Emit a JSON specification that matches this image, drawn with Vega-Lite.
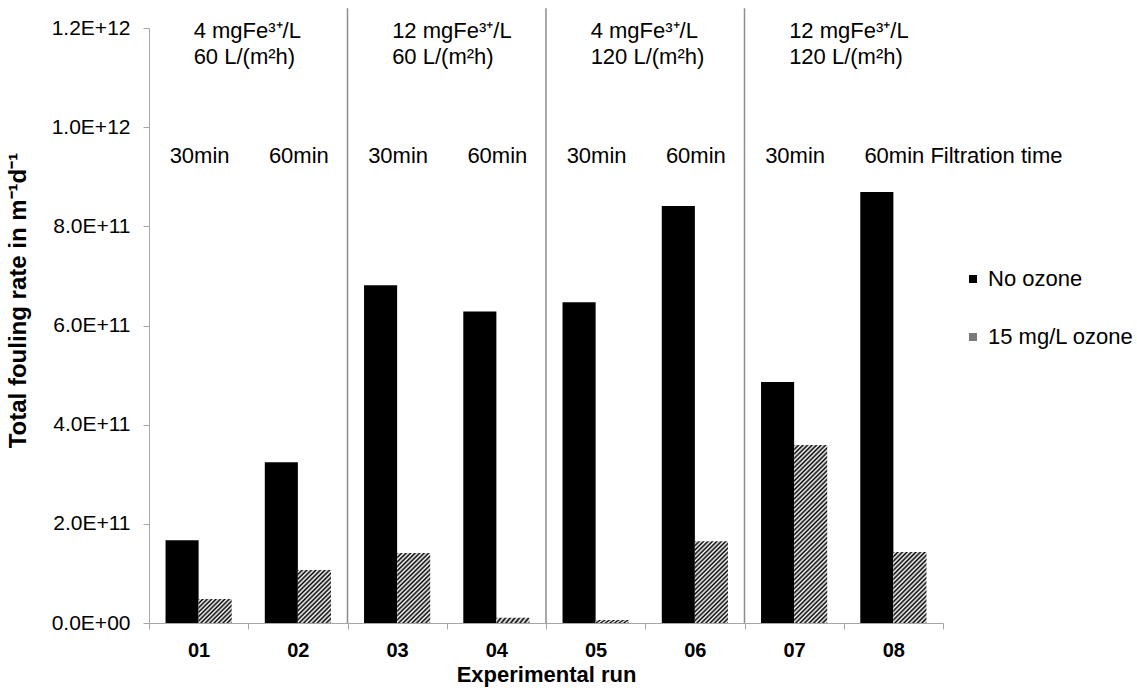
{
"$schema": "https://vega.github.io/schema/vega-lite/v6.json",
"width": 794, "height": 595,
"autosize": {"type": "none"},
"padding": {"left": 149, "top": 28, "right": 194, "bottom": 70},
"background": "white",
"config": {"view": {"stroke": null}, "font": "Liberation Sans"},
"datasets": {
"bars": [
{"run":"01","series":"No ozone","value":1.67e11},
{"run":"01","series":"15 mg/L ozone","value":4.85e10},
{"run":"02","series":"No ozone","value":3.24e11},
{"run":"02","series":"15 mg/L ozone","value":1.07e11},
{"run":"03","series":"No ozone","value":6.81e11},
{"run":"03","series":"15 mg/L ozone","value":1.41e11},
{"run":"04","series":"No ozone","value":6.28e11},
{"run":"04","series":"15 mg/L ozone","value":1.05e10},
{"run":"05","series":"No ozone","value":6.47e11},
{"run":"05","series":"15 mg/L ozone","value":6e9},
{"run":"06","series":"No ozone","value":8.41e11},
{"run":"06","series":"15 mg/L ozone","value":1.65e11},
{"run":"07","series":"No ozone","value":4.86e11},
{"run":"07","series":"15 mg/L ozone","value":3.59e11},
{"run":"08","series":"No ozone","value":8.69e11},
{"run":"08","series":"15 mg/L ozone","value":1.43e11}
],
"separators": [{"run":"02"},{"run":"04"},{"run":"06"}],
"groups": [
{"run":"01","conc":"4 mgFe³⁺/L","flux":"60 L/(m²h)"},
{"run":"03","conc":"12 mgFe³⁺/L","flux":"60 L/(m²h)"},
{"run":"05","conc":"4 mgFe³⁺/L","flux":"120 L/(m²h)"},
{"run":"07","conc":"12 mgFe³⁺/L","flux":"120 L/(m²h)"}
],
"times": [
{"run":"01","time":"30min"},
{"run":"02","time":"60min"},
{"run":"03","time":"30min"},
{"run":"04","time":"60min"},
{"run":"05","time":"30min"},
{"run":"06","time":"60min"},
{"run":"07","time":"30min"},
{"run":"08","time":"60min Filtration time"}
]
},
"layer": [
{
"data": {"name": "bars"},
"mark": {"type": "bar", "strokeWidth": 0},
"encoding": {
"x": {"field": "run", "type": "nominal",
 "scale": {"type": "band", "domain": ["01","02","03","04","05","06","07","08"], "paddingInner": 0, "paddingOuter": 0},
 "axis": {"title": "Experimental run", "labelAngle": 0, "labelFont": "Liberation Sans", "labelFontSize": 20, "labelFontWeight": "bold", "labelColor": "black", "labelPadding": 11, "tickBand": "extent", "ticks": true, "tickSize": 6, "tickColor": "#a6a6a6", "domainColor": "#a6a6a6", "titleFont": "Liberation Sans", "titleFontSize": 22, "titleFontWeight": "bold", "titleColor": "black", "titlePadding": 4, "grid": false}},
"xOffset": {"field": "series", "type": "nominal", "scale": {"domain": ["No ozone","15 mg/L ozone"], "paddingInner": 0, "paddingOuter": 0.5}},
"y": {"field": "value", "type": "quantitative",
 "scale": {"domain": [0, 1.2e12], "nice": false, "zero": true},
 "axis": {"title": "Total fouling rate  in m⁻¹d⁻¹", "values": [0, 2e11, 4e11, 6e11, 8e11, 1e12, 1.2e12], "labelExpr": "datum.value === 0 ? '0.0E+00' : replace(format(datum.value, '.1e'), 'e', 'E')", "labelFont": "Liberation Sans", "labelFontSize": 21, "labelColor": "black", "labelPadding": 13, "tickSize": 6, "tickColor": "#a6a6a6", "domainColor": "#a6a6a6", "grid": false, "titleFont": "Liberation Sans", "titleFontSize": 24, "titleFontWeight": "bold", "titleColor": "black", "titleX": -119, "titleY": 272, "titleBaseline": "bottom", "titleAngle": -90, "titleAlign": "center"}},
"fill": {"field": "series", "type": "nominal",
 "scale": {"domain": ["No ozone","15 mg/L ozone"], "range": ["#000000", "#7a7a7a"]},
 "legend": {"title": null, "orient": "none", "legendX": 813, "legendY": 240, "direction": "vertical", "symbolType": "square", "symbolSize": 64, "symbolStrokeWidth": 0, "labelFont": "Liberation Sans", "labelFontSize": 22, "labelColor": "black", "labelOffset": 4, "rowPadding": 36, "padding": 0, "labelLimit": 300},
 "condition": [
  {"test": "datum.series !== 'No ozone' && datum.run === '01'", "value": {"gradient":"linear","x1":0,"y1":0,"x2":1.13,"y2":0.822,"stops":[{"offset":0,"color":"#000"},{"offset":0.0385,"color":"#fff"},{"offset":0.0769,"color":"#000"},{"offset":0.1154,"color":"#fff"},{"offset":0.1538,"color":"#000"},{"offset":0.1923,"color":"#fff"},{"offset":0.2308,"color":"#000"},{"offset":0.2692,"color":"#fff"},{"offset":0.3077,"color":"#000"},{"offset":0.3462,"color":"#fff"},{"offset":0.3846,"color":"#000"},{"offset":0.4231,"color":"#fff"},{"offset":0.4615,"color":"#000"},{"offset":0.5,"color":"#fff"},{"offset":0.5385,"color":"#000"},{"offset":0.5769,"color":"#fff"},{"offset":0.6154,"color":"#000"},{"offset":0.6538,"color":"#fff"},{"offset":0.6923,"color":"#000"},{"offset":0.7308,"color":"#fff"},{"offset":0.7692,"color":"#000"},{"offset":0.8077,"color":"#fff"},{"offset":0.8462,"color":"#000"},{"offset":0.8846,"color":"#fff"},{"offset":0.9231,"color":"#000"},{"offset":0.9615,"color":"#fff"},{"offset":1,"color":"#000"}]}},
  {"test": "datum.series !== 'No ozone' && datum.run === '02'", "value": {"gradient":"linear","x1":0,"y1":0,"x2":0.728,"y2":1.169,"stops":[{"offset":0,"color":"#000"},{"offset":0.0263,"color":"#fff"},{"offset":0.0526,"color":"#000"},{"offset":0.0789,"color":"#fff"},{"offset":0.1053,"color":"#000"},{"offset":0.1316,"color":"#fff"},{"offset":0.1579,"color":"#000"},{"offset":0.1842,"color":"#fff"},{"offset":0.2105,"color":"#000"},{"offset":0.2368,"color":"#fff"},{"offset":0.2632,"color":"#000"},{"offset":0.2895,"color":"#fff"},{"offset":0.3158,"color":"#000"},{"offset":0.3421,"color":"#fff"},{"offset":0.3684,"color":"#000"},{"offset":0.3947,"color":"#fff"},{"offset":0.4211,"color":"#000"},{"offset":0.4474,"color":"#fff"},{"offset":0.4737,"color":"#000"},{"offset":0.5,"color":"#fff"},{"offset":0.5263,"color":"#000"},{"offset":0.5526,"color":"#fff"},{"offset":0.5789,"color":"#000"},{"offset":0.6053,"color":"#fff"},{"offset":0.6316,"color":"#000"},{"offset":0.6579,"color":"#fff"},{"offset":0.6842,"color":"#000"},{"offset":0.7105,"color":"#fff"},{"offset":0.7368,"color":"#000"},{"offset":0.7632,"color":"#fff"},{"offset":0.7895,"color":"#000"},{"offset":0.8158,"color":"#fff"},{"offset":0.8421,"color":"#000"},{"offset":0.8684,"color":"#fff"},{"offset":0.8947,"color":"#000"},{"offset":0.9211,"color":"#fff"},{"offset":0.9474,"color":"#000"},{"offset":0.9737,"color":"#fff"},{"offset":1,"color":"#000"}]}},
  {"test": "datum.series !== 'No ozone' && (datum.run === '03' || datum.run === '08')", "value": {"gradient":"linear","x1":0,"y1":0,"x2":0.564,"y2":1.204,"stops":[{"offset":0,"color":"#000"},{"offset":0.0217,"color":"#fff"},{"offset":0.0435,"color":"#000"},{"offset":0.0652,"color":"#fff"},{"offset":0.087,"color":"#000"},{"offset":0.1087,"color":"#fff"},{"offset":0.1304,"color":"#000"},{"offset":0.1522,"color":"#fff"},{"offset":0.1739,"color":"#000"},{"offset":0.1957,"color":"#fff"},{"offset":0.2174,"color":"#000"},{"offset":0.2391,"color":"#fff"},{"offset":0.2609,"color":"#000"},{"offset":0.2826,"color":"#fff"},{"offset":0.3043,"color":"#000"},{"offset":0.3261,"color":"#fff"},{"offset":0.3478,"color":"#000"},{"offset":0.3696,"color":"#fff"},{"offset":0.3913,"color":"#000"},{"offset":0.413,"color":"#fff"},{"offset":0.4348,"color":"#000"},{"offset":0.4565,"color":"#fff"},{"offset":0.4783,"color":"#000"},{"offset":0.5,"color":"#fff"},{"offset":0.5217,"color":"#000"},{"offset":0.5435,"color":"#fff"},{"offset":0.5652,"color":"#000"},{"offset":0.587,"color":"#fff"},{"offset":0.6087,"color":"#000"},{"offset":0.6304,"color":"#fff"},{"offset":0.6522,"color":"#000"},{"offset":0.6739,"color":"#fff"},{"offset":0.6957,"color":"#000"},{"offset":0.7174,"color":"#fff"},{"offset":0.7391,"color":"#000"},{"offset":0.7609,"color":"#fff"},{"offset":0.7826,"color":"#000"},{"offset":0.8043,"color":"#fff"},{"offset":0.8261,"color":"#000"},{"offset":0.8478,"color":"#fff"},{"offset":0.8696,"color":"#000"},{"offset":0.8913,"color":"#fff"},{"offset":0.913,"color":"#000"},{"offset":0.9348,"color":"#fff"},{"offset":0.9565,"color":"#000"},{"offset":0.9783,"color":"#fff"},{"offset":1,"color":"#000"}]}},
  {"test": "datum.series !== 'No ozone' && (datum.run === '04' || datum.run === '05')", "value": {"gradient":"linear","x1":0,"y1":0,"x2":1.1,"y2":0.14,"stops":[{"offset":0,"color":"#000"},{"offset":0.0625,"color":"#fff"},{"offset":0.125,"color":"#000"},{"offset":0.1875,"color":"#fff"},{"offset":0.25,"color":"#000"},{"offset":0.3125,"color":"#fff"},{"offset":0.375,"color":"#000"},{"offset":0.4375,"color":"#fff"},{"offset":0.5,"color":"#000"},{"offset":0.5625,"color":"#fff"},{"offset":0.625,"color":"#000"},{"offset":0.6875,"color":"#fff"},{"offset":0.75,"color":"#000"},{"offset":0.8125,"color":"#fff"},{"offset":0.875,"color":"#000"},{"offset":0.9375,"color":"#fff"},{"offset":1,"color":"#000"}]}},
  {"test": "datum.series !== 'No ozone' && datum.run === '06'", "value": {"gradient":"linear","x1":0,"y1":0,"x2":0.486,"y2":1.207,"stops":[{"offset":0,"color":"#000"},{"offset":0.0192,"color":"#fff"},{"offset":0.0385,"color":"#000"},{"offset":0.0577,"color":"#fff"},{"offset":0.0769,"color":"#000"},{"offset":0.0962,"color":"#fff"},{"offset":0.1154,"color":"#000"},{"offset":0.1346,"color":"#fff"},{"offset":0.1538,"color":"#000"},{"offset":0.1731,"color":"#fff"},{"offset":0.1923,"color":"#000"},{"offset":0.2115,"color":"#fff"},{"offset":0.2308,"color":"#000"},{"offset":0.25,"color":"#fff"},{"offset":0.2692,"color":"#000"},{"offset":0.2885,"color":"#fff"},{"offset":0.3077,"color":"#000"},{"offset":0.3269,"color":"#fff"},{"offset":0.3462,"color":"#000"},{"offset":0.3654,"color":"#fff"},{"offset":0.3846,"color":"#000"},{"offset":0.4038,"color":"#fff"},{"offset":0.4231,"color":"#000"},{"offset":0.4423,"color":"#fff"},{"offset":0.4615,"color":"#000"},{"offset":0.4808,"color":"#fff"},{"offset":0.5,"color":"#000"},{"offset":0.5192,"color":"#fff"},{"offset":0.5385,"color":"#000"},{"offset":0.5577,"color":"#fff"},{"offset":0.5769,"color":"#000"},{"offset":0.5962,"color":"#fff"},{"offset":0.6154,"color":"#000"},{"offset":0.6346,"color":"#fff"},{"offset":0.6538,"color":"#000"},{"offset":0.6731,"color":"#fff"},{"offset":0.6923,"color":"#000"},{"offset":0.7115,"color":"#fff"},{"offset":0.7308,"color":"#000"},{"offset":0.75,"color":"#fff"},{"offset":0.7692,"color":"#000"},{"offset":0.7885,"color":"#fff"},{"offset":0.8077,"color":"#000"},{"offset":0.8269,"color":"#fff"},{"offset":0.8462,"color":"#000"},{"offset":0.8654,"color":"#fff"},{"offset":0.8846,"color":"#000"},{"offset":0.9038,"color":"#fff"},{"offset":0.9231,"color":"#000"},{"offset":0.9423,"color":"#fff"},{"offset":0.9615,"color":"#000"},{"offset":0.9808,"color":"#fff"},{"offset":1,"color":"#000"}]}},
  {"test": "datum.series !== 'No ozone' && datum.run === '07'", "value": {"gradient":"linear","x1":0,"y1":0,"x2":0.2125,"y2":1.146,"stops":[{"offset":0,"color":"#000"},{"offset":0.0106,"color":"#fff"},{"offset":0.0213,"color":"#000"},{"offset":0.0319,"color":"#fff"},{"offset":0.0426,"color":"#000"},{"offset":0.0532,"color":"#fff"},{"offset":0.0638,"color":"#000"},{"offset":0.0745,"color":"#fff"},{"offset":0.0851,"color":"#000"},{"offset":0.0957,"color":"#fff"},{"offset":0.1064,"color":"#000"},{"offset":0.117,"color":"#fff"},{"offset":0.1277,"color":"#000"},{"offset":0.1383,"color":"#fff"},{"offset":0.1489,"color":"#000"},{"offset":0.1596,"color":"#fff"},{"offset":0.1702,"color":"#000"},{"offset":0.1809,"color":"#fff"},{"offset":0.1915,"color":"#000"},{"offset":0.2021,"color":"#fff"},{"offset":0.2128,"color":"#000"},{"offset":0.2234,"color":"#fff"},{"offset":0.234,"color":"#000"},{"offset":0.2447,"color":"#fff"},{"offset":0.2553,"color":"#000"},{"offset":0.266,"color":"#fff"},{"offset":0.2766,"color":"#000"},{"offset":0.2872,"color":"#fff"},{"offset":0.2979,"color":"#000"},{"offset":0.3085,"color":"#fff"},{"offset":0.3191,"color":"#000"},{"offset":0.3298,"color":"#fff"},{"offset":0.3404,"color":"#000"},{"offset":0.3511,"color":"#fff"},{"offset":0.3617,"color":"#000"},{"offset":0.3723,"color":"#fff"},{"offset":0.383,"color":"#000"},{"offset":0.3936,"color":"#fff"},{"offset":0.4043,"color":"#000"},{"offset":0.4149,"color":"#fff"},{"offset":0.4255,"color":"#000"},{"offset":0.4362,"color":"#fff"},{"offset":0.4468,"color":"#000"},{"offset":0.4574,"color":"#fff"},{"offset":0.4681,"color":"#000"},{"offset":0.4787,"color":"#fff"},{"offset":0.4894,"color":"#000"},{"offset":0.5,"color":"#fff"},{"offset":0.5106,"color":"#000"},{"offset":0.5213,"color":"#fff"},{"offset":0.5319,"color":"#000"},{"offset":0.5426,"color":"#fff"},{"offset":0.5532,"color":"#000"},{"offset":0.5638,"color":"#fff"},{"offset":0.5745,"color":"#000"},{"offset":0.5851,"color":"#fff"},{"offset":0.5957,"color":"#000"},{"offset":0.6064,"color":"#fff"},{"offset":0.617,"color":"#000"},{"offset":0.6277,"color":"#fff"},{"offset":0.6383,"color":"#000"},{"offset":0.6489,"color":"#fff"},{"offset":0.6596,"color":"#000"},{"offset":0.6702,"color":"#fff"},{"offset":0.6809,"color":"#000"},{"offset":0.6915,"color":"#fff"},{"offset":0.7021,"color":"#000"},{"offset":0.7128,"color":"#fff"},{"offset":0.7234,"color":"#000"},{"offset":0.734,"color":"#fff"},{"offset":0.7447,"color":"#000"},{"offset":0.7553,"color":"#fff"},{"offset":0.766,"color":"#000"},{"offset":0.7766,"color":"#fff"},{"offset":0.7872,"color":"#000"},{"offset":0.7979,"color":"#fff"},{"offset":0.8085,"color":"#000"},{"offset":0.8191,"color":"#fff"},{"offset":0.8298,"color":"#000"},{"offset":0.8404,"color":"#fff"},{"offset":0.8511,"color":"#000"},{"offset":0.8617,"color":"#fff"},{"offset":0.8723,"color":"#000"},{"offset":0.883,"color":"#fff"},{"offset":0.8936,"color":"#000"},{"offset":0.9043,"color":"#fff"},{"offset":0.9149,"color":"#000"},{"offset":0.9255,"color":"#fff"},{"offset":0.9362,"color":"#000"},{"offset":0.9468,"color":"#fff"},{"offset":0.9574,"color":"#000"},{"offset":0.9681,"color":"#fff"},{"offset":0.9787,"color":"#000"},{"offset":0.9894,"color":"#fff"},{"offset":1,"color":"#000"}]}}
 ]}
}
},
{
"data": {"name": "separators"},
"mark": {"type": "rule", "color": "#8c8c8c", "strokeWidth": 1.5},
"encoding": {
"x": {"field": "run", "type": "nominal", "bandPosition": 1},
"y": {"datum": 1.24e12, "type": "quantitative"},
"y2": {"datum": 0}
}
},
{
"data": {"name": "groups"},
"mark": {"type": "text", "align": "left", "baseline": "alphabetic", "dx": -5, "font": "Liberation Sans", "fontSize": 22, "color": "black"},
"encoding": {
"x": {"field": "run", "type": "nominal"},
"y": {"datum": 1.1798e12, "type": "quantitative"},
"text": {"field": "conc"}
}
},
{
"data": {"name": "groups"},
"mark": {"type": "text", "align": "left", "baseline": "alphabetic", "dx": -5, "font": "Liberation Sans", "fontSize": 22, "color": "black"},
"encoding": {
"x": {"field": "run", "type": "nominal"},
"y": {"datum": 1.1264e12, "type": "quantitative"},
"text": {"field": "flux"}
}
},
{
"data": {"name": "times"},
"mark": {"type": "text", "align": "left", "baseline": "alphabetic", "dx": -29, "font": "Liberation Sans", "fontSize": 22, "color": "black"},
"encoding": {
"x": {"field": "run", "type": "nominal"},
"y": {"datum": 9.277e11, "type": "quantitative"},
"text": {"field": "time"}
}
}
]
}
